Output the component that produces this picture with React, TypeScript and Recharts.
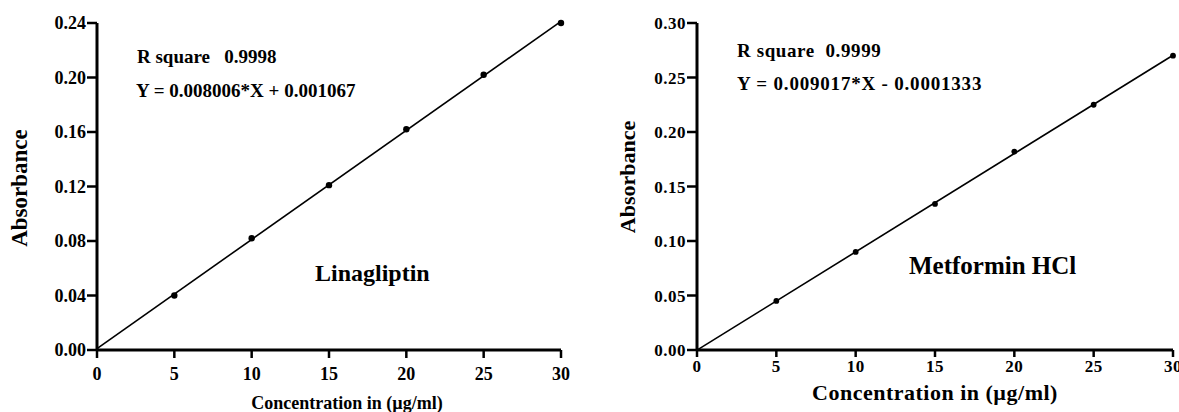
import React from 'react';
import { ComposedChart, ReferenceLine, Scatter, XAxis, YAxis } from 'recharts';

const concentrations = [5, 10, 15, 20, 25, 30];
const linagliptinAbs = [0.04, 0.082, 0.121, 0.162, 0.202, 0.24];
const metforminAbs = [0.045, 0.09, 0.134, 0.182, 0.225, 0.27];

// regression line end points (from the fitted equations)
const fitX = [0, 30];
const linagliptinFit = [0.001067, 0.241247];
const metforminFit = [-0.0001333, 0.2703767];

const xTicks = [0, 5, 10, 15, 20, 25, 30];
const linagliptinYTicks = [0, 0.04, 0.08, 0.12, 0.16, 0.2, 0.24];
const metforminYTicks = [0, 0.05, 0.1, 0.15, 0.2, 0.25, 0.3];

const serif = '"Liberation Serif", "Times New Roman", serif';

const toPoints = (xs: number[], ys: number[]) => xs.map((x, i) => ({ x, y: ys[i] }));

const linagliptinPoints = toPoints(concentrations, linagliptinAbs);
const linagliptinLine = toPoints(fitX, linagliptinFit);
const metforminPoints = toPoints(concentrations, metforminAbs);
const metforminLine = toPoints(fitX, metforminFit);

interface CurveProps {
  points: { x: number; y: number }[];
  line: { x: number; y: number }[];
  yTicks: number[];
  yMax: number;
  width: number;
  yAxisWidth: number;
  marginRight: number;
  tickFont: number;
  tickSpacing: number;
  xTickMargin: number;
  xTickSize: number;
  dotR: number;
}

function CalibrationChart(p: CurveProps) {
  const tickStyle = {
    fill: '#000',
    fontSize: p.tickFont,
    fontWeight: 700,
    fontFamily: serif,
    letterSpacing: p.tickSpacing,
  };
  return (
    <ComposedChart
      width={p.width}
      height={412}
      margin={{ top: 23, right: p.marginRight, left: 0, bottom: 0 }}
    >
      <XAxis
        type="number"
        dataKey="x"
        domain={[0, 30]}
        ticks={xTicks}
        interval={0}
        height={62}
        axisLine={{ stroke: '#000', strokeWidth: 3 }}
        tickLine={{ stroke: '#000', strokeWidth: 2.5 }}
        tickSize={p.xTickSize}
        tickMargin={p.xTickMargin}
        tick={tickStyle}
      />
      <YAxis
        type="number"
        dataKey="y"
        domain={[0, p.yMax]}
        ticks={p.yTicks}
        interval={0}
        width={p.yAxisWidth}
        axisLine={{ stroke: '#000', strokeWidth: 3 }}
        tickLine={{ stroke: '#000', strokeWidth: 2.5 }}
        tickSize={10}
        tickMargin={1}
        tick={tickStyle}
        tickFormatter={(v: number) => v.toFixed(2)}
      />
      <ReferenceLine
        segment={p.line}
        stroke="#000"
        strokeWidth={1.6}
        ifOverflow="visible"
      />
      <Scatter
        data={p.points}
        dataKey="y"
        fill="#000"
        isAnimationActive={false}
        shape={(s: any) => <circle cx={s.cx} cy={s.cy} r={p.dotR} fill="#000" />}
      />
    </ComposedChart>
  );
}

export default function App() {
  return (
    <div
      style={{
        position: 'absolute',
        left: 0,
        top: 0,
        width: 1179,
        height: 412,
        background: '#fff',
        overflow: 'hidden',
      }}
    >
      <div style={{ position: 'absolute', left: 0, top: 0 }}>
        <CalibrationChart
          points={linagliptinPoints}
          line={linagliptinLine}
          yTicks={linagliptinYTicks}
          yMax={0.24}
          width={590}
          yAxisWidth={97}
          marginRight={29}
          tickFont={18}
          tickSpacing={0}
          xTickMargin={9}
          xTickSize={8}
          dotR={3.2}
        />
      </div>
      <div style={{ position: 'absolute', left: 590, top: 0 }}>
        <CalibrationChart
          points={metforminPoints}
          line={metforminLine}
          yTicks={metforminYTicks}
          yMax={0.3}
          width={589}
          yAxisWidth={107}
          marginRight={6}
          tickFont={17}
          tickSpacing={0.5}
          xTickMargin={3}
          xTickSize={7}
          dotR={2.9}
        />
      </div>

      {/* annotations and axis titles */}
      <svg
        width={1179}
        height={412}
        style={{ position: 'absolute', left: 0, top: 0, pointerEvents: 'none' }}
        fontFamily={serif}
        fontWeight={700}
        fill="#000"
      >
        <text x={137} y={63} fontSize={19} xmlSpace="preserve">R square   0.9998</text>
        <text x={136} y={96.5} fontSize={19}>Y = 0.008006*X + 0.001067</text>
        <text x={315} y={281} fontSize={24}>Linagliptin</text>
        <text x={27} y={188} fontSize={23} textAnchor="middle" transform="rotate(-90 27 188)">
          Absorbance
        </text>
        <text x={347} y={409} fontSize={18} textAnchor="middle">Concentration in (µg/ml)</text>

        <text x={737} y={57} fontSize={19} letterSpacing={0.6} xmlSpace="preserve">R square  0.9999</text>
        <text x={737} y={89.5} fontSize={19} letterSpacing={0.8}>Y = 0.009017*X - 0.0001333</text>
        <text x={909} y={274} fontSize={25}>Metformin HCl</text>
        <text x={635} y={177} fontSize={22} textAnchor="middle" transform="rotate(-90 635 177)">
          Absorbance
        </text>
        <text x={935} y={400} fontSize={22} letterSpacing={0.5} textAnchor="middle">
          Concentration in (µg/ml)
        </text>
      </svg>
    </div>
  );
}
